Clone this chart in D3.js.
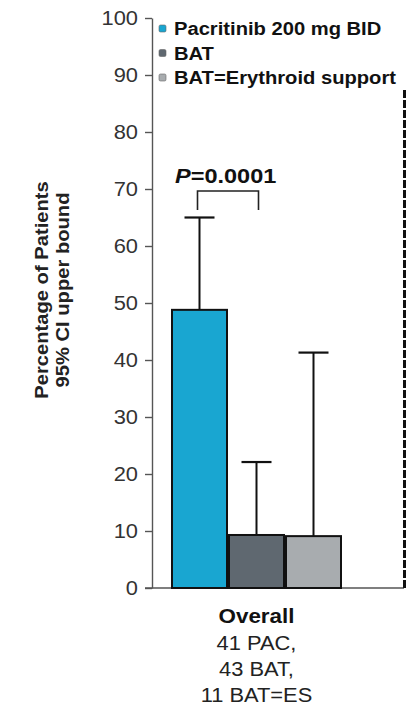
<!DOCTYPE html>
<html>
<head>
<meta charset="utf-8">
<script src="https://cdn.jsdelivr.net/npm/d3@7/dist/d3.min.js"></script>
<style>
  html, body { margin: 0; padding: 0; background: #ffffff; }
  svg { display: block; font-family: Arial, "Liberation Sans", sans-serif; }
</style>
</head>
<body>
<svg id="chart" width="406" height="705"></svg>
<script>
// Response rates (%) with 95% CI upper bounds
const series = ["Pacritinib 200 mg BID", "BAT", "BAT=Erythroid support"];
const values = [48.8, 9.3, 9.1];
const upperCI = [65, 22.1, 41.3];
const colors = ["#19a6d1", "#5f6870", "#a8acaf"];
const yTicks = [0, 10, 20, 30, 40, 50, 60, 70, 80, 90, 100];
const categoryTitle = "Overall";
const categoryLines = ["41 PAC,", "43 BAT,", "11 BAT=ES"];
const pLabel = ["P", "=0.0001"];

const svg = d3.select("#chart");

const y = d3.scaleLinear().domain([0, 100]).range([588, 18]);
const x = d3.scaleBand().domain(series).range([172, 341]).paddingInner(0.035);

// y axis
const yAxis = svg.append("g")
  .attr("transform", "translate(152,0)")
  .call(d3.axisLeft(y).tickValues(yTicks).tickSize(7).tickSizeOuter(0).tickPadding(7));
yAxis.select(".domain").attr("stroke", "#555").attr("stroke-width", 1.4);
yAxis.selectAll(".tick line").attr("stroke", "#555").attr("stroke-width", 1.4);
yAxis.selectAll(".tick text")
  .attr("font-size", 19.5).attr("fill", "#333")
  .attr("font-family", "Arial, 'Liberation Sans', sans-serif");

// baseline
svg.append("line")
  .attr("x1", 145).attr("x2", 404)
  .attr("y1", y(0)).attr("y2", y(0))
  .attr("stroke", "#555").attr("stroke-width", 1.4);

// panel separator
svg.append("line")
  .attr("x1", 404.5).attr("x2", 404.5)
  .attr("y1", 90).attr("y2", y(0))
  .attr("stroke", "#111").attr("stroke-width", 3)
  .attr("stroke-dasharray", "8,2");

// error bars (upper bound only)
const err = svg.append("g");
series.forEach((s, i) => {
  const cx = x(s) + x.bandwidth() / 2;
  err.append("line")
    .attr("x1", cx).attr("x2", cx)
    .attr("y1", y(values[i])).attr("y2", y(upperCI[i]))
    .attr("stroke", "#111").attr("stroke-width", 2);
  err.append("line")
    .attr("x1", cx - 15).attr("x2", cx + 15)
    .attr("y1", y(upperCI[i])).attr("y2", y(upperCI[i]))
    .attr("stroke", "#111").attr("stroke-width", 2.2);
});

// bars
svg.append("g").selectAll("rect")
  .data(series)
  .join("rect")
  .attr("x", d => x(d))
  .attr("y", (d, i) => y(values[i]))
  .attr("width", x.bandwidth())
  .attr("height", (d, i) => y(0) - y(values[i]))
  .attr("fill", (d, i) => colors[i])
  .attr("stroke", "#111")
  .attr("stroke-width", 2);

// significance bracket between pacritinib and BAT
const bx1 = x(series[0]) + x.bandwidth() / 2 - 2;
const bx2 = x(series[1]) + x.bandwidth() / 2 + 2;
const by = 191;
svg.append("path")
  .attr("d", `M${bx1},${by + 19}V${by}H${bx2}V${by + 19}`)
  .attr("fill", "none").attr("stroke", "#222").attr("stroke-width", 1.6);

const pText = svg.append("text")
  .attr("x", 175).attr("y", 183)
  .attr("font-size", 21).attr("font-weight", "bold").attr("fill", "#111");
pText.append("tspan").attr("font-style", "italic").text(pLabel[0]);
pText.append("tspan").text(pLabel[1]);

// legend
const legend = svg.append("g");
series.forEach((s, i) => {
  const ly = 35 + i * 24.5;
  legend.append("rect")
    .attr("x", 159).attr("y", ly - 10)
    .attr("width", 7).attr("height", 7).attr("rx", 1.5)
    .attr("fill", colors[i]).attr("stroke", "#666").attr("stroke-width", 0.6);
  legend.append("text")
    .attr("x", 174).attr("y", ly)
    .attr("font-size", 18).attr("font-weight", "bold").attr("fill", "#111")
    .text(s);
});

// y axis title
const yTitle = svg.append("text")
  .attr("transform", "translate(48,290) rotate(-90)")
  .attr("text-anchor", "middle")
  .attr("font-size", 18).attr("font-weight", "bold").attr("fill", "#222");
yTitle.append("tspan").attr("x", 0).attr("dy", 0).text("Percentage of Patients");
yTitle.append("tspan").attr("x", 0).attr("dy", 21).text("95% CI upper bound");

// category label
const cx = (x(series[0]) + x(series[2]) + x.bandwidth()) / 2;
svg.append("text")
  .attr("x", cx).attr("y", 623)
  .attr("text-anchor", "middle")
  .attr("font-size", 20).attr("font-weight", "bold").attr("fill", "#111")
  .text(categoryTitle);
categoryLines.forEach((t, i) => {
  svg.append("text")
    .attr("x", cx).attr("y", 650 + i * 26)
    .attr("text-anchor", "middle")
    .attr("font-size", 19.5).attr("fill", "#222")
    .text(t);
});

// the typeface in this figure runs slightly wide: stretch every label horizontally
const widen = 1.12;
svg.selectAll("text").each(function () {
  const el = this;
  if (el.querySelector("tspan") && el.querySelectorAll("tspan").length > 1 && el !== pText.node()) {
    d3.select(el).selectAll("tspan").each(function () {
      const w = this.getComputedTextLength();
      d3.select(this).attr("textLength", w * widen).attr("lengthAdjust", "spacingAndGlyphs");
    });
  } else {
    const w = el.getComputedTextLength();
    d3.select(el).attr("textLength", w * widen).attr("lengthAdjust", "spacingAndGlyphs");
  }
});
</script>
</body>
</html>
